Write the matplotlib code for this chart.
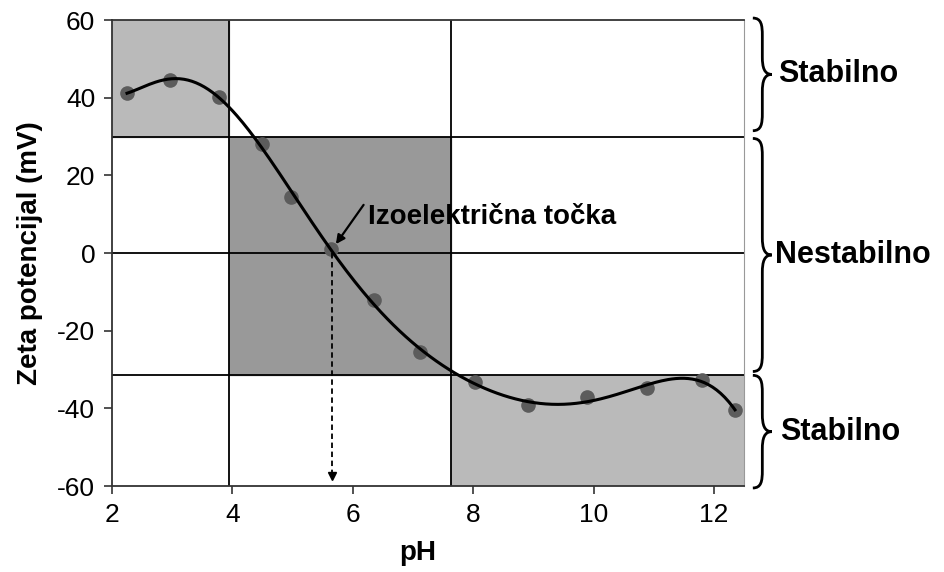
import numpy as np
import matplotlib.pyplot as plt
from matplotlib.path import Path
from matplotlib.patches import PathPatch, Rectangle
import matplotlib.transforms as mtransforms

plt.rcParams['font.family'] = ['Liberation Sans', 'DejaVu Sans']
plt.rcParams['axes.unicode_minus'] = False

# measured points (pH, zeta potential in mV)
ph = [2.25, 2.96, 3.78, 4.49, 4.97, 5.64, 6.35, 7.12, 8.03, 8.91, 9.90, 10.89, 11.80, 12.35]
zeta = [41.2, 44.6, 40.2, 28.1, 14.4, 1.0, -12.1, -25.5, -33.2, -39.2, -37.1, -34.8, -32.7, -40.5]

# zone limits
ph_edges = [3.95, 7.63]
zeta_edges = [30, -31.5]
iso_ph = 5.65

xticks = [2, 4, 6, 8, 10, 12]
yticks = [-60, -40, -20, 0, 20, 40, 60]

light = '#bababa'
dark = '#999999'

fig = plt.figure(figsize=(9.45, 5.72), dpi=100)
ax = fig.add_axes([0.1185, 0.1503, 0.6688, 0.8147])
ax.set_xlim(2, 12.5)
ax.set_ylim(-60, 60)

# shaded zones
ax.add_patch(Rectangle((2, zeta_edges[0]), ph_edges[0] - 2, 60 - zeta_edges[0], color=light, zorder=0))
ax.add_patch(Rectangle((ph_edges[0], zeta_edges[1]), ph_edges[1] - ph_edges[0],
                       zeta_edges[0] - zeta_edges[1], color=dark, zorder=0))
ax.add_patch(Rectangle((ph_edges[1], -60), 12.5 - ph_edges[1], zeta_edges[1] + 60, color=light, zorder=0))

# grid lines of the zones
for xv in ph_edges:
    ax.axvline(xv, color='black', lw=1.3, zorder=1)
for yv in zeta_edges + [0]:
    ax.axhline(yv, color='black', lw=1.3, zorder=1)

# trend line fitted through the points
coef = np.polyfit(ph, zeta, 8)
xs = np.linspace(ph[0], ph[-1], 300)
ax.plot(xs, np.polyval(coef, xs), color='black', lw=2.2, zorder=3)
ax.plot(ph, zeta, 'o', color='#5c5c5c', ms=9.5, zorder=2)

# isoelectric point
ax.plot([iso_ph, iso_ph], [0, -57], color='black', lw=1.3, ls=(0, (3, 2)), zorder=3)
ax.plot([iso_ph], [-57.5], marker='v', color='black', ms=6, zorder=3)
ax.annotate('', xy=(iso_ph + 0.07, 2.3), xytext=(6.18, 12.4),
            arrowprops=dict(arrowstyle='-|>', color='black', lw=1.6,
                            shrinkA=0, shrinkB=0, mutation_scale=13))
ax.text(6.25, 9.2, 'Izoelektrična točka', fontsize=20, fontweight='bold',
        va='center', ha='left')

ax.set_xticks(xticks)
ax.set_yticks(yticks)
ax.tick_params(labelsize=19, length=6, width=1.2, direction='out', color='#333333', pad=6)
ax.set_xlabel('pH', fontsize=20, fontweight='bold', labelpad=4)
ax.xaxis.set_label_coords(0.483, -0.115)
ax.set_ylabel('Zeta potencijal (mV)', fontsize=20, fontweight='bold', labelpad=10)
for s in ['left', 'bottom', 'top']:
    ax.spines[s].set_color('#333333')
    ax.spines[s].set_linewidth(1.3)
ax.spines['right'].set_color('#999999')

# braces on the right side
trans = mtransforms.blended_transform_factory(ax.transAxes, ax.transData)


def brace(y_top, y_bot, x0=1.014, w=0.03, r=4.5):
    h = w / 2
    ym = (y_top + y_bot) / 2
    verts = [(x0, y_top),
             (x0 + h * 0.9, y_top), (x0 + h, y_top - r * 0.4), (x0 + h, y_top - r),
             (x0 + h, ym + r),
             (x0 + h, ym + r * 0.4), (x0 + h * 1.2, ym), (x0 + w, ym),
             (x0 + h * 1.2, ym), (x0 + h, ym - r * 0.4), (x0 + h, ym - r),
             (x0 + h, y_bot + r),
             (x0 + h, y_bot + r * 0.4), (x0 + h * 0.9, y_bot), (x0, y_bot)]
    codes = [Path.MOVETO, Path.CURVE4, Path.CURVE4, Path.CURVE4, Path.LINETO,
             Path.CURVE4, Path.CURVE4, Path.CURVE4, Path.CURVE4, Path.CURVE4, Path.CURVE4,
             Path.LINETO, Path.CURVE4, Path.CURVE4, Path.CURVE4]
    patch = PathPatch(Path(verts, codes), fill=False, lw=2, color='black',
                      transform=trans, clip_on=False)
    ax.add_patch(patch)
    return ym


brace_spans = [(60.5, 31.5), (29.5, -30.5), (-31.5, -60.5)]
brace_labels = ['Stabilno', 'Nestabilno', 'Stabilno']
brace_text_x = [1.054, 1.049, 1.057]
for (yt, yb), lab, tx in zip(brace_spans, brace_labels, brace_text_x):
    ym = brace(yt, yb)
    ax.text(tx, ym, lab, transform=trans, fontsize=22, fontweight='bold',
            va='center', ha='left')

fig.savefig('out.png', dpi=100)
